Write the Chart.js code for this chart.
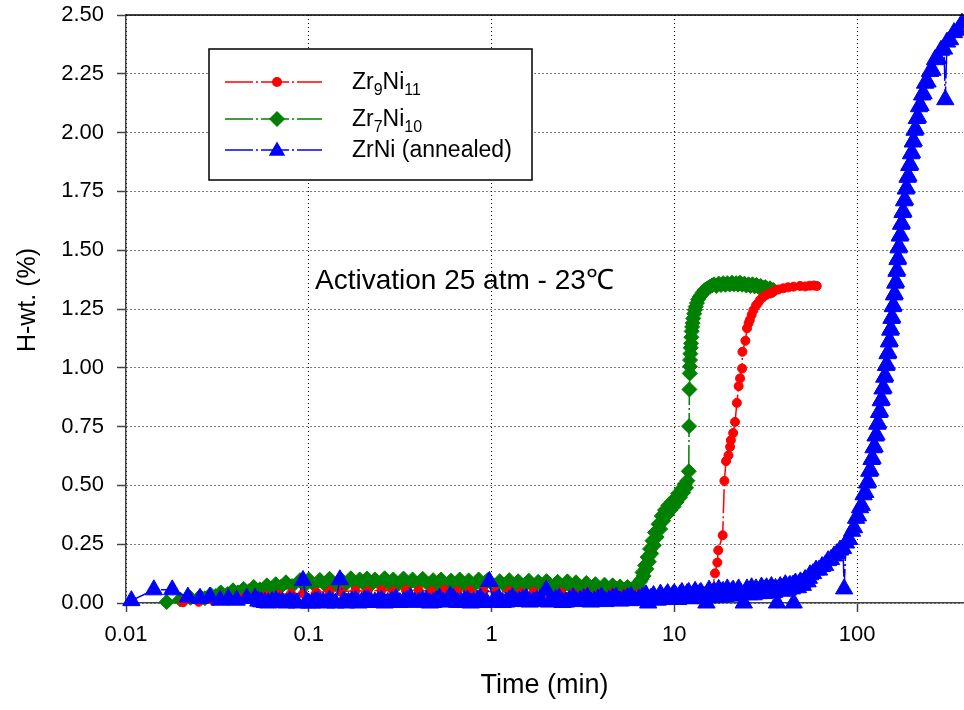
<!DOCTYPE html>
<html>
<head>
<meta charset="utf-8">
<script src="https://cdn.jsdelivr.net/npm/chart.js@4.4.1/dist/chart.umd.min.js"></script>
<style>
  html, body { margin: 0; padding: 0; background: #fff; }
  canvas { display: block; }
</style>
</head>
<body>
<canvas id="chart" width="964" height="710" style="width:964px;height:710px"></canvas>
<script>
// Axis ticks
const xTicks = [0.01, 0.1, 1, 10, 100];
const xTickLabels = ['0.01', '0.1', '1', '10', '100'];
const yTicks = [0, 0.25, 0.5, 0.75, 1, 1.25, 1.5, 1.75, 2, 2.25, 2.5];

// Series labels (text runs, second entry marks a subscript)
const labelZr9Ni11 = [['Zr', 0], ['9', 1], ['Ni', 0], ['11', 1]];
const labelZr7Ni10 = [['Zr', 0], ['7', 1], ['Ni', 0], ['10', 1]];
const labelZrNi = [['ZrNi (annealed)', 0]];

// Zr9Ni11: [time (min), H content (wt.%)]
const zr9ni11 = [
  [0.0205,0.003],[0.025,0.005],[0.030,0.01],[0.036,0.015],[0.042,0.02],[0.050,0.025],[0.058,0.03],[0.068,0.035],[0.080,0.04],[0.093,0.04],
  [0.11,0.045],[0.13,0.05],[0.15,0.048],[0.18,0.052],[0.21,0.05],[0.25,0.055],[0.29,0.05],[0.34,0.055],[0.40,0.053],[0.47,0.05],
  [0.55,0.055],[0.65,0.05],[0.76,0.052],[0.90,0.05],[1.05,0.048],[1.25,0.05],[1.45,0.045],[1.7,0.048],[2.0,0.045],[2.4,0.045],
  [2.8,0.042],[3.3,0.044],[3.9,0.04],[4.6,0.042],[5.4,0.04],[6.3,0.038],[7.4,0.036],[8.6,0.038],[10.0,0.035],[11.5,0.04],
  [13.0,0.045],[14.5,0.05],[16.2,0.06],[16.7,0.126],[17.2,0.172],[17.4,0.224],[18.4,0.288],[18.8,0.519],[19.2,0.603],[19.8,0.628],
  [20.2,0.664],[20.4,0.692],[21.0,0.723],[21.5,0.77],[22.0,0.851],[22.5,0.922],[22.9,0.955],[23.5,0.997],[23.6,1.068],[24.5,1.115],
  [25.0,1.168],[25.5,1.19],[25.9,1.203],[26.5,1.225],[27.1,1.245],[28.0,1.265],[28.7,1.275],[29.4,1.288],[30.5,1.30],[31.8,1.31],
  [33.4,1.316],[35.0,1.325],[37.0,1.333],[39.5,1.338],[42.0,1.342],[45.0,1.345],[48.8,1.348],[52.0,1.346],[55.0,1.349],[58.0,1.35],
  [60.2,1.348]
];

// Zr7Ni10
const zr7ni10 = [
  [0.0167,0.004],[0.0198,0.015],[0.0225,0.022],[0.0254,0.028],[0.027,0.02],[0.029,0.036],[0.031,0.03],[0.033,0.045],[0.036,0.038],[0.0385,0.054],
  [0.041,0.045],[0.044,0.06],[0.047,0.05],[0.050,0.068],[0.054,0.058],[0.059,0.075],[0.062,0.062],[0.066,0.08],[0.070,0.068],[0.075,0.088],
  [0.081,0.072],[0.0896,0.097],[0.095,0.075],[0.10,0.10],[0.107,0.078],[0.115,0.098],[0.122,0.08],[0.13,0.103],[0.14,0.08],[0.15,0.10],
  [0.16,0.082],[0.17,0.105],[0.18,0.08],[0.19,0.10],[0.20,0.082],[0.208,0.104],[0.22,0.08],[0.23,0.10],[0.245,0.082],[0.26,0.105],
  [0.275,0.08],[0.29,0.10],[0.31,0.082],[0.33,0.104],[0.35,0.08],[0.37,0.10],[0.395,0.08],[0.42,0.103],[0.45,0.08],[0.479,0.097],
  [0.505,0.078],[0.53,0.10],[0.565,0.078],[0.60,0.095],[0.635,0.078],[0.67,0.10],[0.71,0.075],[0.75,0.096],[0.80,0.076],[0.85,0.10],
  [0.90,0.075],[0.95,0.097],[1.03,0.075],[1.11,0.093],[1.18,0.074],[1.25,0.097],[1.32,0.072],[1.4,0.092],[1.5,0.072],[1.6,0.095],
  [1.7,0.07],[1.8,0.09],[1.9,0.07],[2.0,0.093],[2.15,0.068],[2.3,0.09],[2.45,0.068],[2.6,0.092],[2.75,0.066],[2.9,0.088],
  [3.1,0.065],[3.3,0.085],[3.5,0.062],[3.7,0.08],[3.93,0.06],[4.15,0.078],[4.4,0.058],[4.6,0.075],[4.8,0.056],[5.05,0.07],
  [5.3,0.055],[5.55,0.068],[5.8,0.055],[6.0,0.066],[6.2,0.056],[6.35,0.068],[6.49,0.09],[6.6,0.10],[6.7,0.13],[6.8,0.115],
  [6.92,0.16],[7.03,0.145],[7.15,0.195],[7.26,0.175],[7.37,0.23],[7.48,0.21],[7.6,0.265],[7.72,0.245],[7.85,0.30],[8.0,0.28],
  [8.2,0.335],[8.37,0.315],[8.54,0.37],[8.7,0.35],[8.9,0.395],[9.1,0.375],[9.28,0.415],[9.5,0.395],[9.7,0.43],[9.9,0.41],
  [10.1,0.445],[10.3,0.43],[10.5,0.465],[10.75,0.45],[11.0,0.485],[11.2,0.47],[11.4,0.505],[11.6,0.49],[11.8,0.52],[12.0,0.56],
  [12.05,0.752],[12.1,0.908],[12.15,0.976],[12.18,1.005],[12.2,1.033],[12.25,1.06],[12.3,1.085],[12.35,1.104],[12.4,1.13],[12.45,1.155],
  [12.52,1.174],[12.6,1.19],[12.7,1.21],[12.85,1.23],[12.97,1.246],[13.1,1.26],[13.3,1.275],[13.5,1.29],[13.8,1.302],[14.05,1.31],
  [14.3,1.32],[14.65,1.33],[15.0,1.335],[15.35,1.34],[15.7,1.345],[16.1,1.35],[16.5,1.355],[17.0,1.348],[17.5,1.358],[18.0,1.352],
  [18.5,1.36],[19.0,1.353],[19.5,1.36],[20.1,1.354],[20.7,1.362],[21.2,1.355],[21.8,1.36],[22.3,1.354],[22.9,1.362],[23.5,1.353],
  [24.2,1.358],[24.8,1.35],[25.5,1.355],[26.1,1.348],[26.8,1.355],[27.5,1.346],[28.2,1.352],[28.9,1.344],[29.7,1.348],[30.6,1.34],
  [31.5,1.343],[32.4,1.335],[33.4,1.338],[34.1,1.331],[34.8,1.331]
];

// ZrNi (annealed)
const zrNi = [
  [0.0107,0.01],[0.0142,0.056],[0.0179,0.056],[0.0218,0.025],[0.0254,0.02],[0.0288,0.025],[0.0327,0.012],[0.0363,0.018],[0.0403,0.012],[0.0458,0.02],
  [0.0508,0.02],[0.053,0.008],[0.055,0.005],[0.0575,0.002],[0.060,0.0],[0.063,0.006],[0.066,0.01],[0.069,0.002],[0.072,0.003],[0.0755,0.0],
  [0.079,0.008],[0.0825,0.002],[0.086,0.0],[0.093,0.096],[0.097,0.005],[0.100,0.0],[0.104,0.0],[0.108,0.006],[0.112,0.01],[0.116,0.002],
  [0.12,0.004],[0.125,0.0],[0.13,0.012],[0.135,0.003],[0.14,0.0],[0.148,0.099],[0.155,0.008],[0.16,0.0],[0.165,0.003],[0.172,0.008],
  [0.18,0.012],[0.187,0.0],[0.195,0.005],[0.202,0.01],[0.21,0.015],[0.22,0.002],[0.23,0.004],[0.24,0.008],[0.25,0.012],[0.26,0.0],
  [0.27,0.002],[0.285,0.01],[0.30,0.018],[0.315,0.002],[0.33,0.006],[0.345,0.012],[0.36,0.022],[0.38,0.003],[0.40,0.004],[0.42,0.01],
  [0.44,0.012],[0.46,0.0],[0.48,0.002],[0.50,0.01],[0.52,0.02],[0.545,0.004],[0.57,0.006],[0.595,0.03],[0.62,0.018],[0.65,0.003],
  [0.68,0.002],[0.71,0.01],[0.74,0.012],[0.77,0.0],[0.80,0.005],[0.835,0.012],[0.87,0.02],[0.905,0.002],[0.94,0.003],[0.973,0.092],
  [1.02,0.006],[1.06,0.012],[1.1,0.018],[1.15,0.002],[1.2,0.004],[1.25,0.012],[1.3,0.022],[1.36,0.006],[1.42,0.008],[1.48,0.015],
  [1.55,0.02],[1.62,0.004],[1.7,0.006],[1.77,0.012],[1.85,0.016],[1.99,0.055],[2.07,0.004],[2.15,0.008],[2.25,0.015],[2.35,0.02],
  [2.45,0.002],[2.55,0.004],[2.67,0.012],[2.8,0.022],[2.92,0.006],[3.05,0.01],[3.2,0.018],[3.35,0.024],[3.5,0.004],[3.65,0.008],
  [3.82,0.016],[4.0,0.025],[4.2,0.006],[4.4,0.012],[4.6,0.02],[4.8,0.025],[5.05,0.008],[5.3,0.015],[5.55,0.022],[5.8,0.028],
  [6.1,0.01],[6.4,0.016],[6.7,0.025],[7.0,0.035],[7.2,0.0],[7.45,0.02],[7.7,0.032],[7.9,0.015],[8.1,0.012],[8.4,0.038],
  [8.6,0.022],[8.8,0.015],[9.0,0.03],[9.2,0.04],[9.4,0.025],[9.6,0.018],[9.8,0.032],[10.0,0.04],[10.25,0.028],[10.5,0.015],
  [10.75,0.035],[11.0,0.045],[11.25,0.03],[11.5,0.02],[11.75,0.04],[12.0,0.045],[12.25,0.03],[12.5,0.018],[12.75,0.038],[13.0,0.05],
  [13.25,0.032],[13.5,0.02],[13.75,0.04],[14.0,0.045],[14.5,0.028],[15.0,0.0],[15.25,0.035],[15.5,0.055],[15.75,0.04],[16.0,0.022],
  [16.25,0.038],[16.5,0.05],[16.75,0.035],[17.0,0.025],[17.25,0.04],[17.5,0.058],[17.75,0.04],[18.0,0.025],[18.25,0.045],[18.5,0.05],
  [18.75,0.038],[19.0,0.028],[19.25,0.045],[19.5,0.06],[19.85,0.042],[20.2,0.03],[20.6,0.048],[21.0,0.055],[21.4,0.04],[21.8,0.03],
  [22.15,0.05],[22.5,0.06],[23.2,0.04],[24.0,0.0],[24.5,0.045],[25.0,0.06],[25.4,0.048],[25.8,0.035],[26.15,0.05],[26.5,0.065],
  [26.85,0.05],[27.2,0.035],[27.6,0.052],[28.0,0.06],[28.5,0.05],[29.0,0.04],[29.5,0.055],[30.0,0.068],[30.5,0.055],[31.0,0.04],
  [31.5,0.058],[32.0,0.065],[32.5,0.055],[33.0,0.045],[33.5,0.06],[34.0,0.07],[34.6,0.058],[35.2,0.045],[35.8,0.062],[36.5,0.0],
  [37.2,0.06],[38.0,0.07],[38.6,0.062],[39.2,0.05],[39.8,0.068],[40.5,0.078],[41.1,0.065],[41.8,0.055],[42.4,0.07],[43.0,0.075],
  [43.5,0.068],[44.0,0.06],[44.5,0.075],[45.0,0.0],[45.5,0.08],[46.0,0.085],[46.8,0.075],[47.5,0.065],[48.2,0.08],[49.0,0.09],
  [49.7,0.085],[50.5,0.075],[51.2,0.09],[52.0,0.1],[52.8,0.095],[53.6,0.09],[54.5,0.105],
  [55.31,0.12],[57.44,0.125],[59.65,0.14],[61.95,0.14],[64.34,0.155],[66.82,0.16],[69.39,0.18],[72.06,0.185],[74.84,0.20],[77.72,0.21],
  [80.72,0.225],[83.83,0.232],[85.0,0.06],[87.06,0.255],[90.41,0.27],[93.89,0.305],[96.29,0.32],[98.75,0.36],[101.27,0.37],[103.85,0.405],
  [106.16,0.415],[108.52,0.46],[110.94,0.47],[113.41,0.51],[115.0,0.515],[116.67,0.56],[118.38,0.565],[120.03,0.61],[121.55,0.615],[123.09,0.66],
  [124.65,0.665],[126.23,0.71],[127.67,0.715],[129.04,0.76],[130.43,0.765],[131.92,0.81],[133.43,0.815],[134.86,0.86],[136.31,0.865],[137.87,0.91],
  [139.44,0.915],[140.94,0.96],[142.46,0.965],[144.09,1.01],[145.46,1.015],[146.84,1.06],[148.23,1.065],[149.64,1.11],[150.78,1.115],[152.02,1.16],
  [153.26,1.165],[154.43,1.21],[155.60,1.215],[156.88,1.26],[158.17,1.265],[159.37,1.31],[160.58,1.315],[161.90,1.36],[163.23,1.365],[164.47,1.41],
  [165.51,1.415],[166.56,1.46],[167.61,1.465],[168.67,1.51],[169.95,1.515],[171.35,1.56],[172.76,1.565],[174.07,1.61],[175.72,1.615],[177.39,1.66],
  [179.07,1.665],[180.78,1.71],[182.84,1.715],[184.81,1.76],[186.80,1.765],[188.93,1.81],[191.09,1.815],[193.14,1.86],[195.22,1.865],[197.45,1.91],
  [199.70,1.915],[201.85,1.96],[204.02,1.965],[206.35,2.01],[209.23,2.015],[212.28,2.06],[215.39,2.065],[218.39,2.11],[222.56,2.115],[226.80,2.16],
  [231.13,2.165],[235.54,2.21],[243.08,2.215],[250.8,2.26],[258.8,2.265],[267.1,2.31],[277.4,2.315],[288.1,2.35],[299.2,2.355],[304.0,2.14],
  [310.7,2.385],[322.7,2.395],[339.4,2.425],[356.9,2.435],[375.3,2.465]
];

const RED = '#ff0000', GREEN = '#008000', BLUE = '#0000ff';
const FONT = "'Liberation Sans', Arial, Helvetica, sans-serif";
const DASH = [24, 3, 2, 3];

const toPoints = (rows) => rows.map(([t, v]) => ({ x: t, y: v }));

function seriesStyle(color, style, radius) {
  return {
    borderColor: color,
    backgroundColor: color,
    borderWidth: 1.5,
    borderDash: DASH,
    pointStyle: style,
    pointRadius: radius,
    pointBackgroundColor: color,
    pointBorderColor: color,
    pointBorderWidth: 1,
    pointHoverRadius: radius,
    tension: 0,
    clip: false
  };
}

const legendRows = [
  { parts: labelZr9Ni11, color: RED, style: 'circle', r: 5 },
  { parts: labelZr7Ni10, color: GREEN, style: 'diamond', r: 8 },
  { parts: labelZrNi, color: BLUE, style: 'triangle', r: 9.5 }
];

function marker(ctx, style, x, y, r, color) {
  ctx.save();
  ctx.setLineDash([]);
  ctx.fillStyle = color;
  ctx.beginPath();
  if (style === 'circle') {
    ctx.arc(x, y, r, 0, Math.PI * 2);
  } else if (style === 'diamond') {
    ctx.moveTo(x - r, y); ctx.lineTo(x, y - r); ctx.lineTo(x + r, y); ctx.lineTo(x, y + r);
  } else {
    ctx.moveTo(x, y - r);
    ctx.lineTo(x + r * 0.866, y + r / 2);
    ctx.lineTo(x - r * 0.866, y + r / 2);
  }
  ctx.closePath();
  ctx.fill();
  ctx.restore();
}

// Frame edge, legend box, note and vertical axis caption
const decorations = {
  id: 'decorations',
  afterDraw(chart) {
    const ctx = chart.ctx;
    const a = chart.chartArea;
    ctx.save();

    ctx.strokeStyle = '#000';
    ctx.lineWidth = 1.5;
    ctx.beginPath();
    ctx.moveTo(a.left, a.top);
    ctx.lineTo(a.right + 2, a.top);
    ctx.stroke();

    // legend
    const bx = 209, by = 49, bw = 323, bh = 131;
    ctx.fillStyle = '#fff';
    ctx.fillRect(bx, by, bw, bh);
    ctx.strokeStyle = '#000';
    ctx.lineWidth = 1.5;
    ctx.strokeRect(bx, by, bw, bh);

    const rowY = [82, 119, 150];
    legendRows.forEach((row, i) => {
      const y = rowY[i];
      ctx.save();
      ctx.strokeStyle = row.color;
      ctx.lineWidth = 1.5;
      ctx.setLineDash([28, 3, 2, 3]);
      ctx.beginPath();
      ctx.moveTo(225, y);
      ctx.lineTo(322, y);
      ctx.stroke();
      ctx.restore();
      marker(ctx, row.style, 277, row.style === 'triangle' ? y + 1 : y, row.r, row.color);

      let x = 352;
      const base = y + 6.5;
      ctx.fillStyle = '#000';
      ctx.textAlign = 'left';
      ctx.textBaseline = 'alphabetic';
      row.parts.forEach(([txt, sub]) => {
        ctx.font = (sub ? '16px ' : '23px ') + FONT;
        ctx.fillText(txt, x, sub ? base + 6.5 : base);
        x += ctx.measureText(txt).width;
      });
    });

    // note
    ctx.fillStyle = '#000';
    ctx.font = '28px ' + FONT;
    ctx.textAlign = 'left';
    ctx.textBaseline = 'alphabetic';
    ctx.fillText('Activation 25 atm - 23\u2103', 315, 289);

    // vertical axis caption
    ctx.save();
    ctx.translate(35, 300);
    ctx.rotate(-Math.PI / 2);
    ctx.font = '25px ' + FONT;
    ctx.textAlign = 'center';
    ctx.textBaseline = 'alphabetic';
    ctx.fillText('H-wt. (%)', 0, 0);
    ctx.restore();

    ctx.restore();
  }
};

new Chart(document.getElementById('chart'), {
  type: 'line',
  data: {
    datasets: [
      Object.assign({ label: 'Zr9Ni11', data: toPoints(zr9ni11), order: 1 }, seriesStyle(RED, 'circle', 4.5)),
      Object.assign({ label: 'Zr7Ni10', data: toPoints(zr7ni10), order: 2 }, seriesStyle(GREEN, 'rectRot', 7.5)),
      Object.assign({ label: 'ZrNi (annealed)', data: toPoints(zrNi), order: 0 }, seriesStyle(BLUE, 'triangle', 10))
    ]
  },
  options: {
    responsive: false,
    devicePixelRatio: 1,
    animation: false,
    events: [],
    layout: { autoPadding: false, padding: { left: 0, right: 1, top: 15, bottom: 0 } },
    plugins: { legend: { display: false }, tooltip: { enabled: false } },
    scales: {
      x: {
        type: 'logarithmic',
        min: 0.01,
        max: 380,
        afterBuildTicks: (scale) => { scale.ticks = xTicks.map(v => ({ value: v })); },
        afterFit: (scale) => { scale.height = 107; },
        ticks: {
          autoSkip: false,
          maxRotation: 0,
          color: '#000',
          padding: 10,
          font: { family: FONT, size: 22 },
          callback: (v) => { const i = xTicks.indexOf(v); return i >= 0 ? xTickLabels[i] : ''; }
        },
        grid: { color: '#000', lineWidth: 1, tickLength: 9, tickColor: '#444', tickWidth: 1.5, tickBorderDash: [] },
        border: { display: true, color: '#444', width: 1.5, dash: [1, 3] },
        title: { display: true, text: 'Time (min)', color: '#000', font: { family: FONT, size: 27 }, padding: { top: 0, bottom: 8 } }
      },
      y: {
        min: 0,
        max: 2.5,
        afterBuildTicks: (scale) => { scale.ticks = yTicks.map(v => ({ value: v })); },
        afterFit: (scale) => { scale.width = 126; scale.paddingTop = 0; scale.paddingBottom = 0; },
        ticks: {
          color: '#000',
          padding: 13,
          font: { family: FONT, size: 22 },
          callback: (v) => Number(v).toFixed(2)
        },
        grid: { color: '#000', lineWidth: 1, tickLength: 9, tickColor: '#444', tickWidth: 1.5, tickBorderDash: [] },
        border: { display: true, color: '#444', width: 1.5, dash: [1, 3] },
        title: { display: false }
      }
    }
  },
  plugins: [decorations]
});
</script>
</body>
</html>
